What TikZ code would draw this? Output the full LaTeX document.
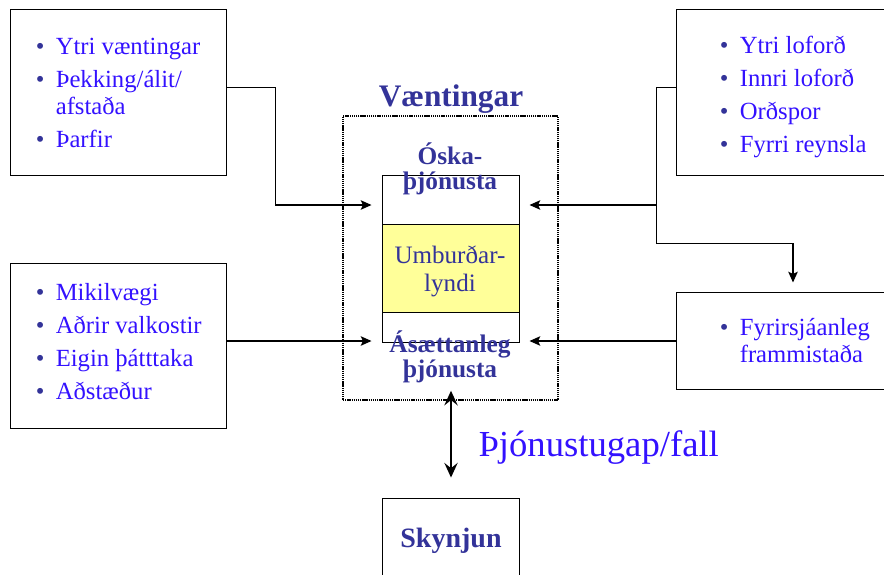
\documentclass[tikz,border=0pt]{standalone}
\usepackage{fontspec}
\setmainfont{Liberation Serif}
\usepackage{xcolor}
\usetikzlibrary{arrows.meta,positioning,calc}

\definecolor{listblue}{RGB}{51,17,255}
\definecolor{headblue}{RGB}{51,51,153}
\definecolor{tolyellow}{RGB}{255,255,153}

\newcommand{\bitem}[1]{\makebox[15pt][l]{\textcolor{headblue}{\textbullet}}#1}
\newcommand{\bmore}[1]{\hspace*{15pt}#1}

\tikzset{
  frame/.style={draw, line width=0.7pt, rectangle, inner sep=0pt},
  blist/.style={align=left, text=listblue, inner sep=0pt, anchor=west,
    font=\fontsize{18.5}{20.25}\selectfont},
  head/.style={align=center, text=headblue, inner sep=0pt,
    font=\bfseries\fontsize{19}{18.5}\selectfont},
  wire/.style={line width=0.7pt},
  arr/.style={line width=1.3pt, -{Stealth[length=8pt,width=7pt,inset=1.5pt]}},
  gaparr/.style={line width=1.3pt, {Stealth[length=11pt,width=10pt,inset=4pt]}-{Stealth[length=11pt,width=10pt,inset=4pt]}}
}

\begin{document}
\begin{tikzpicture}[x=0.75pt,y=-0.75pt]
\useasboundingbox (0,0) rectangle (884,574);

% side boxes
\node[frame, minimum width=162pt, minimum height=124.5pt] (tl) at (118,92) {};
\node[frame, minimum width=162pt, minimum height=123.75pt] (bl) at (118,345.5) {};
\node[frame, minimum width=163.5pt, minimum height=124.5pt] (tr) at (785,92) {};
\node[frame, minimum width=163.5pt, minimum height=72.75pt] (br) at (785,340.5) {};

\node[blist] (tltext) at ([xshift=19.5pt,yshift=-1pt]tl.west)
  {\bitem{Ytri væntingar}\\[4.5pt] \bitem{Þekking/álit/}\\ \bmore{afstaða}\\[4.5pt] \bitem{Þarfir}};
\node[blist] (bltext) at ([xshift=19.5pt,yshift=3pt]bl.west)
  {\bitem{Mikilvægi}\\[4.5pt] \bitem{Aðrir valkostir}\\[4.5pt] \bitem{Eigin þátttaka}\\[4.5pt] \bitem{Aðstæður}};
\node[blist] (trtext) at ([xshift=33pt,yshift=-4pt]tr.west)
  {\bitem{Ytri loforð}\\[4.5pt] \bitem{Innri loforð}\\[4.5pt] \bitem{Orðspor}\\[4.5pt] \bitem{Fyrri reynsla}};
\node[blist] (brtext) at ([xshift=33pt]br.west)
  {\bitem{Fyrirsjáanleg}\\ \bmore{frammistaða}};

% expectations
\node[frame, dash pattern=on 1pt off 0.6pt, line width=1.1pt,
  minimum width=161.25pt, minimum height=213pt] (vaent) at (450.5,258) {};
\node[head, font=\bfseries\fontsize{23.5}{24}\selectfont] (vtitle) at (451,99) {Væntingar};
\node[frame, minimum width=102.75pt, minimum height=125.25pt] (col) at (450.5,258.5) {};
\node[frame, fill=tolyellow, minimum width=102.75pt, minimum height=66pt] (tol) at (450.5,268) {};
\node[head] (oska) at (450,169) {Óska-\\þjónusta};
\node[head, font=\fontsize{18.8}{21}\selectfont] (umb) at (450,271) {Umburðar-\\lyndi};
\node[head] (aset) at (450,357) {Ásættanleg\\þjónusta};

% perception
\node[frame, minimum width=102.75pt, minimum height=69pt] (sky) at (450.5,544) {};
\node[head, font=\bfseries\fontsize{21}{22}\selectfont] at (451,541) {Skynjun};

% connectors
\coordinate (elbowL) at (275,205);
\coordinate (elbowR) at (656,205);
\coordinate (dropR) at (793,243);

\draw[wire] ([yshift=3.75pt]tl.east) -| (elbowL);
\draw[arr] (elbowL) -- ([xshift=-7.5pt]col.west |- elbowL);
\draw[arr] (bl.east |- 0,341) -- ([xshift=-7.5pt]col.west |- 0,341);
\draw[wire] ([yshift=3.75pt]tr.west) -| (elbowR) |- (dropR);
\draw[arr] (elbowR) -- ([xshift=7.5pt]col.east |- elbowR);
\draw[arr] (dropR) -- ([yshift=6.75pt]dropR |- br.north);
\draw[arr] (br.west |- 0,341) -- ([xshift=7.5pt]col.east |- 0,341);

% gap
\draw[gaparr] ([yshift=7.5pt]vaent.south -| 451,0) -- ([yshift=15pt]sky.north -| 451,0)
  node[midway, right=20pt, yshift=-10pt, text=listblue, inner sep=0pt,
  font=\fontsize{27.5}{30}\selectfont] (gap) {Þjónustugap/fall};
\end{tikzpicture}
\end{document}
